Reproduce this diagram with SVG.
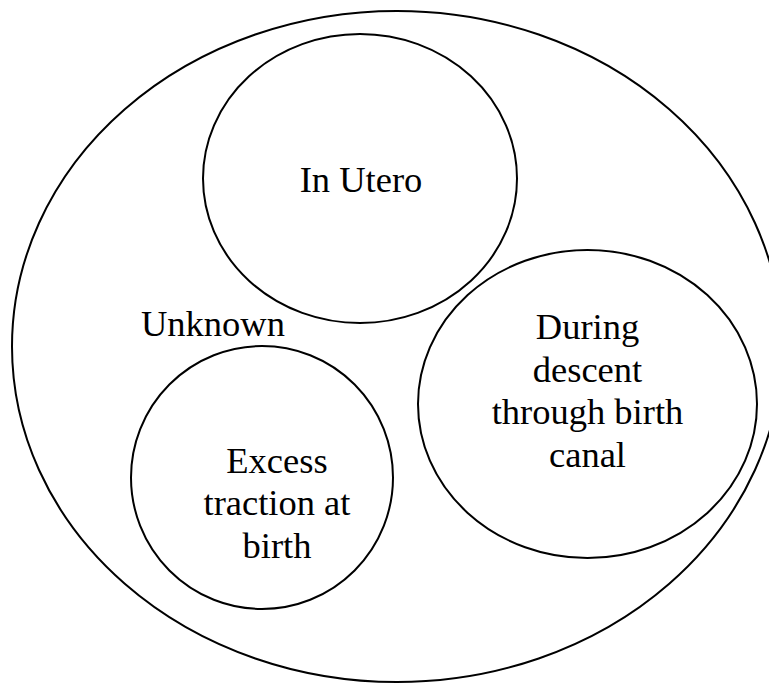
<svg xmlns="http://www.w3.org/2000/svg" width="769" height="684" viewBox="0 0 769 684">
<style>
.shape{fill:none;stroke:#000;stroke-width:2}
.lbl{font-family:"Liberation Serif","Times New Roman",serif;font-size:36.5px;fill:#000;text-anchor:middle}
</style>
<rect width="769" height="684" fill="#fff"/>
<g id="unknown">
<ellipse class="shape" cx="397" cy="346.5" rx="385" ry="335.5"/>
<text class="lbl" x="213" y="336">Unknown</text>
</g>
<g id="in-utero">
<ellipse class="shape" cx="360" cy="178.5" rx="157" ry="144.5"/>
<text class="lbl" x="361" y="192">In Utero</text>
</g>
<g id="during-descent">
<ellipse class="shape" cx="587.5" cy="404" rx="169.5" ry="154"/>
<text class="lbl" x="587.5" y="339">During</text>
<text class="lbl" x="587.5" y="382">descent</text>
<text class="lbl" x="587.5" y="424">through birth</text>
<text class="lbl" x="587.5" y="467">canal</text>
</g>
<g id="excess-traction">
<ellipse class="shape" cx="262" cy="477.5" rx="131" ry="131.5"/>
<text class="lbl" x="277" y="473">Excess</text>
<text class="lbl" x="277" y="515">traction at</text>
<text class="lbl" x="277" y="558">birth</text>
</g>
<g id="connectors"></g>
</svg>
